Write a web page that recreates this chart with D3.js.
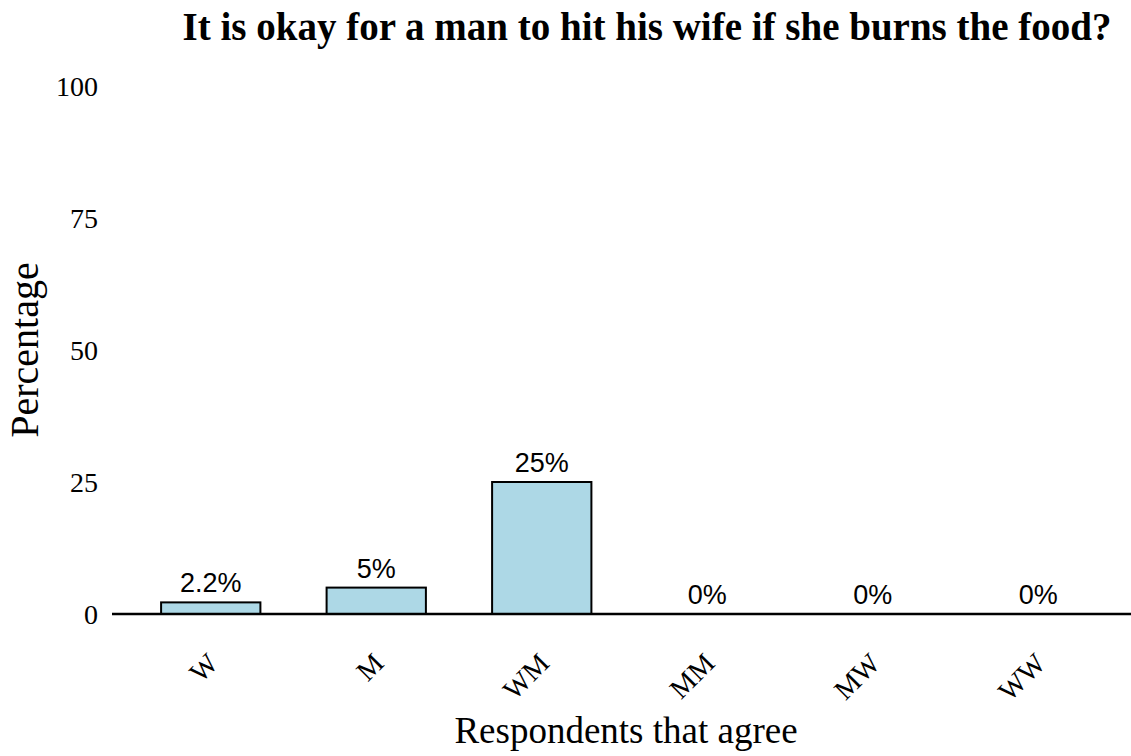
<!DOCTYPE html>
<html>
<head>
<meta charset="utf-8">
<script src="https://cdn.jsdelivr.net/npm/d3@7"></script>
<style>
  body { margin: 0; background: #fff; }
  svg { display: block; }
</style>
</head>
<body>
<svg id="chart" width="1131" height="756"></svg>
<script>
  var categories = ['W', 'M', 'WM', 'MM', 'MW', 'WW'];
  var percentages = [2.2, 5, 25, 0, 0, 0];
  var valueLabels = ['2.2%', '5%', '25%', '0%', '0%', '0%'];
  var yTicks = [0, 25, 50, 75, 100];

  var svg = d3.select('#chart');
  var serif = '"Liberation Serif", "Times New Roman", serif';
  var sans = '"Liberation Sans", Arial, sans-serif';

  var x = d3.scaleBand()
    .domain(categories)
    .range([128, 1121])
    .paddingInner(0.4)
    .paddingOuter(0.2);

  var y = d3.scaleLinear()
    .domain([0, 100])
    .range([614, 86]);

  // title
  svg.append('text')
    .attr('x', 647).attr('y', 40)
    .attr('text-anchor', 'middle')
    .style('font-family', serif)
    .style('font-weight', 'bold')
    .style('font-size', '39px')
    .text('It is okay for a man to hit his wife if she burns the food?');

  // y tick labels (no axis line, no ticks)
  svg.append('g').selectAll('text')
    .data(yTicks)
    .enter().append('text')
      .attr('x', 98)
      .attr('y', function(d) { return y(d); })
      .attr('dy', '0.35em')
      .attr('text-anchor', 'end')
      .style('font-family', serif)
      .style('font-size', '28px')
      .text(function(d) { return d; });

  // bars
  svg.append('g').selectAll('rect')
    .data(percentages)
    .enter().append('rect')
      .attr('x', function(d, i) { return x(categories[i]); })
      .attr('y', function(d) { return y(d); })
      .attr('width', x.bandwidth())
      .attr('height', function(d) { return y(0) - y(d); })
      .attr('fill', '#add8e6')
      .attr('stroke', '#000')
      .attr('stroke-width', 2);

  // value labels
  svg.append('g').selectAll('text')
    .data(percentages)
    .enter().append('text')
      .attr('x', function(d, i) { return x(categories[i]) + x.bandwidth() / 2; })
      .attr('y', function(d) { return y(d) - 10; })
      .attr('text-anchor', 'middle')
      .style('font-family', sans)
      .style('font-size', '27px')
      .text(function(d, i) { return valueLabels[i]; });

  // baseline
  svg.append('line')
    .attr('x1', 112).attr('x2', 1131)
    .attr('y1', y(0)).attr('y2', y(0))
    .attr('stroke', '#000')
    .attr('stroke-width', 2.5);

  // x tick labels, rotated 45 degrees, end-anchored
  svg.append('g').selectAll('text')
    .data(categories)
    .enter().append('text')
      .attr('transform', function(d) {
        return 'translate(' + (x(d) + x.bandwidth() / 2 + 9) + ',665) rotate(-45)';
      })
      .attr('text-anchor', 'end')
      .style('font-family', serif)
      .style('font-size', '28px')
      .text(function(d) { return d; });

  // axis titles
  svg.append('text')
    .attr('x', 626).attr('y', 743)
    .attr('text-anchor', 'middle')
    .style('font-family', serif)
    .style('font-size', '37px')
    .text('Respondents that agree');

  svg.append('text')
    .attr('transform', 'translate(38,350) rotate(-90)')
    .attr('text-anchor', 'middle')
    .style('font-family', serif)
    .style('font-size', '40px')
    .text('Percentage');
</script>
</body>
</html>
